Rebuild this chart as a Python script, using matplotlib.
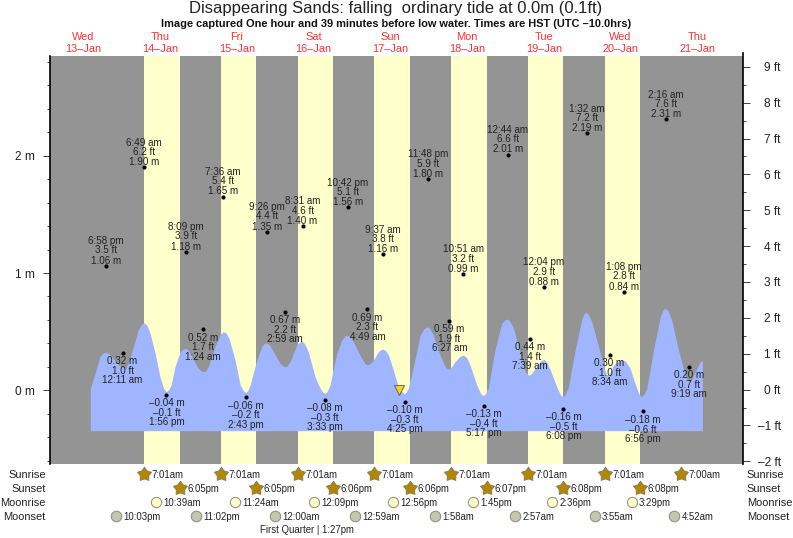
"""Tide chart for Disappearing Sands, one week of highs and lows."""

import matplotlib

matplotlib.use("Agg")
import matplotlib.pyplot as plt
from matplotlib.path import Path
from matplotlib.transforms import blended_transform_factory

plt.rcParams["font.family"] = ["Liberation Sans", "DejaVu Sans"]

GREY = "#949494"
DAYLIGHT = "#ffffcc"
WATER = "#9fb5ff"
INK = "#222222"
RED = "#ff3030"

# curve as drawn: hours after 13-Jan 00:00, height in metres
CURVE_H = [14.1, 15.6, 17.1, 18.0, 18.9, 19.8, 20.8, 22.9, 24.2, 25.2, 26.2,
           27.6, 29.1, 30.1, 31.0, 31.9, 32.8, 34.4, 35.9, 37.0, 37.8, 38.6,
           39.4, 40.6, 42.2, 43.2, 44.1, 45.0, 45.8, 47.9, 48.8, 49.5, 50.2,
           51.0, 53.1, 54.8, 55.7, 56.6, 57.5, 59.4, 61.0, 62.0, 62.7, 63.4,
           64.1, 66.2, 67.7, 68.5, 69.3, 70.2, 71.4, 73.5, 74.4, 75.0, 75.7,
           76.6, 78.7, 79.6, 80.4, 81.2, 82.3, 84.4, 86.0, 86.8, 87.5, 88.2,
           89.1, 91.2, 92.8, 93.7, 94.5, 95.4, 96.4, 99.0, 100.1, 100.8, 101.6,
           102.7, 104.2, 105.0, 105.6, 106.3, 107.4, 108.9, 110.4, 111.2, 112.3, 113.0,
           113.6, 115.2, 117.3, 118.5, 119.6, 120.5, 121.4, 123.5, 125.1, 125.8, 126.3, 127.0,
           128.2, 129.7, 130.8, 131.9, 132.9, 135.0, 136.3, 137.1, 137.8,
           138.6, 140.7, 142.8, 143.8, 144.6, 145.5, 146.5, 148.6, 150.1, 150.9, 151.5, 152.2,
           153.3, 155.0, 156.1, 157.0, 157.9, 160.0, 161.2, 161.9, 162.6,
           163.7, 165.8, 167.9, 168.6, 169.2, 169.9, 171.0, 173.1, 174.6, 175.5, 176.1, 176.8,
           177.8, 179.3, 180.4, 181.4, 183.0, 184.5, 185.8, 186.6, 187.4,
           188.2, 190.3, 192.4, 193.3, 194.0, 194.8, 196.0, 198.1, 200.2, 201.1, 201.8, 202.5,
           203.3, 204.9, 205.6]
CURVE_M = [0.017, 0.145, 0.286, 0.316, 0.324, 0.314, 0.286, 0.216, 0.195, 0.188, 0.245,
           0.372, 0.514, 0.562, 0.576, 0.550, 0.486, 0.315, 0.116, 0.020, -0.012, 0.005,
           0.045, 0.201, 0.329, 0.352, 0.358, 0.335, 0.286, 0.188, 0.165, 0.159, 0.168,
           0.201, 0.372, 0.478, 0.500, 0.488, 0.443, 0.258, 0.045, -0.005, -0.020, -0.002,
           0.045, 0.258, 0.372, 0.398, 0.406, 0.385, 0.329, 0.230, 0.208, 0.201, 0.210,
           0.244, 0.386, 0.412, 0.420, 0.395, 0.329, 0.116, 0.017, -0.014, -0.026, -0.010,
           0.045, 0.315, 0.429, 0.460, 0.471, 0.455, 0.414, 0.273, 0.226, 0.216, 0.228,
           0.258, 0.329, 0.347, 0.352, 0.343, 0.301, 0.173, 0.037, 0.003, -0.032, -0.012,
           0.017, 0.201, 0.471, 0.525, 0.542, 0.520, 0.471, 0.301, 0.201, 0.186, 0.182, 0.195,
           0.244, 0.288, 0.301, 0.278, 0.216, 0.045, -0.030, -0.046, -0.025,
           0.017, 0.344, 0.571, 0.600, 0.608, 0.585, 0.529, 0.315, 0.159, 0.135, 0.130, 0.145,
           0.188, 0.250, 0.264, 0.235, 0.182, 0.031, -0.038, -0.055, -0.035,
           0.031, 0.344, 0.614, 0.652, 0.665, 0.650, 0.585, 0.372, 0.216, 0.140, 0.122, 0.155,
           0.216, 0.250, 0.258, 0.252, 0.188, 0.060, -0.035, -0.055, -0.030,
           0.017, 0.344, 0.627, 0.685, 0.699, 0.680, 0.599, 0.344, 0.130, 0.083, 0.073, 0.105,
           0.159, 0.244, 0.250]
CURVE_FLOOR = -0.344

# labels sitting above their dot
UP_DAY = [13, 14, 14, 15, 15, 16, 16, 17, 17, 18, 19, 19, 20, 20, 21]
UP_TIME = ["6:58 pm", "6:49 am", "8:09 pm", "7:36 am", "9:26 pm", "8:31 am", "10:42 pm", "9:37 am",
           "11:48 pm", "10:51 am", "12:44 am", "12:04 pm", "1:32 am", "1:08 pm", "2:16 am"]
UP_FT = [3.5, 6.2, 3.9, 5.4, 4.4, 4.6, 5.1, 3.8, 5.9, 3.2, 6.6, 2.9, 7.2, 2.8, 7.6]
UP_M = [1.06, 1.90, 1.18, 1.65, 1.35, 1.40, 1.56, 1.16, 1.80, 0.99, 2.01, 0.88, 2.19, 0.84, 2.31]

# labels sitting below their dot
DOWN_DAY = [14, 14, 15, 15, 16, 16, 17, 17, 18, 18, 19, 19, 20, 20, 21]
DOWN_TIME = ["12:11 am", "1:56 pm", "1:24 am", "2:43 pm", "2:59 am", "3:33 pm", "4:49 am", "4:25 pm",
             "6:27 am", "5:17 pm", "7:39 am", "6:08 pm", "8:34 am", "6:56 pm", "9:19 am"]
DOWN_FT = [1.0, -0.1, 1.7, -0.2, 2.2, -0.3, 2.3, -0.3, 1.9, -0.4, 1.4, -0.5, 1.0, -0.6, 0.7]
DOWN_M = [0.32, -0.04, 0.52, -0.06, 0.67, -0.08, 0.69, -0.10, 0.59, -0.13, 0.44, -0.16, 0.30, -0.18, 0.20]

SUNRISE_DAY = [14, 15, 16, 17, 18, 19, 20, 21]
SUNRISE = ["7:01am", "7:01am", "7:01am", "7:01am", "7:01am", "7:01am", "7:01am", "7:00am"]
SUNSET_DAY = [14, 15, 16, 17, 18, 19, 20]
SUNSET = ["6:05pm", "6:05pm", "6:06pm", "6:06pm", "6:07pm", "6:08pm", "6:08pm"]
MOONRISE_DAY = [14, 15, 16, 17, 18, 19, 20]
MOONRISE = ["10:39am", "11:24am", "12:09pm", "12:56pm", "1:45pm", "2:36pm", "3:29pm"]
MOONSET_DAY = [13, 14, 16, 17, 18, 19, 20, 21]
MOONSET = ["10:03pm", "11:02pm", "12:00am", "12:59am", "1:58am", "2:57am", "3:55am", "4:52am"]

WEEKDAYS = ["Wed", "Thu", "Fri", "Sat", "Sun", "Mon", "Tue", "Wed", "Thu"]
DATES = ["13–Jan", "14–Jan", "15–Jan", "16–Jan", "17–Jan", "18–Jan", "19–Jan", "20–Jan", "21–Jan"]

NOW_H = 110.77  # 1 h 39 before the 4:25 pm low
NOW_M = 0.0

W, H = 793, 538


def hours(day, clock):
    """Hours after 13-Jan 00:00 for a day of month and a '6:58 pm' style time."""
    clock = clock.replace(" ", "")
    hh, mm = clock[:-2].split(":")
    hh = int(hh) % 12 + (12 if clock.endswith("pm") else 0)
    return (day - 13) * 24 + hh + int(mm) / 60


def fy(px):
    return 1 - px / H


def dash(s):
    return s.replace("-", "–")


fig = plt.figure(figsize=(W / 100, H / 100), dpi=100, facecolor="white")
ax = fig.add_axes([50 / W, fy(464), 693 / W, 408 / H])
ax.set_facecolor(GREY)
ax.set_xlim(1.5, 218.3)
ax.set_ylim(-0.628, 2.85)
row_transform = blended_transform_factory(ax.transData, fig.transFigure)

# -- daylight bands and water
rises = [hours(d, t) for d, t in zip(SUNRISE_DAY, SUNRISE)]
sets = [hours(d, t) for d, t in zip(SUNSET_DAY, SUNSET)]
for start, end in zip(rises, sets):
    ax.axvspan(start, end, color=DAYLIGHT, linewidth=0, zorder=1)
ax.fill_between(CURVE_H, CURVE_M, CURVE_FLOOR, color=WATER, linewidth=0, zorder=2)
ax.plot([NOW_H], [NOW_M], marker="v", ms=6.5, color="#ffd21a", mec="#555555", mew=0.6, zorder=3)

# -- highs and lows
label_kw = dict(textcoords="offset points", ha="center", va="center", fontsize=7.1, color=INK, zorder=5)
for days, times, fts, ms, offsets in (
    (UP_DAY, UP_TIME, UP_FT, UP_M, (3.8, 11.2, 17.8)),
    (DOWN_DAY, DOWN_TIME, DOWN_FT, DOWN_M, (-6, -13, -19.6)),
):
    for day, clock, ft, m in zip(days, times, fts, ms):
        x = hours(day, clock)
        ax.plot([x], [m], "o", ms=3, color="black", mew=0, zorder=4)
        for text, dy in zip((dash(f"{m:.2f} m"), dash(f"{ft:.1f} ft"), clock), offsets):
            ax.annotate(text, (x, m), xytext=(0, dy), **label_kw)

# -- axes
ax.set_xticks([])
for side in ("top", "bottom", "right"):
    ax.spines[side].set_visible(False)
ax.spines["left"].set_linewidth(1.2)
ax.set_yticks([0, 1, 2], ["0 m", "1 m", "2 m"])
ax.set_yticks([-0.6, -0.4, -0.2, 0.2, 0.4, 0.6, 0.8, 1.2, 1.4, 1.6, 1.8, 2.2, 2.4, 2.6, 2.8], minor=True)
ax.tick_params(axis="y", which="major", length=5, width=0.6, pad=6, labelsize=8.6, colors=INK)
ax.tick_params(axis="y", which="minor", length=2.2, width=0.6, color=INK)

ax_ft = ax.twinx()
ax_ft.set_ylim(-2.074, 9.30)
for side in ("top", "bottom", "left"):
    ax_ft.spines[side].set_visible(False)
ax_ft.spines["right"].set_linewidth(1.2)
ax_ft.spines["right"].set_bounds(-2.074, 9.39)
ft_ticks = list(range(-2, 10))
ax_ft.set_yticks(ft_ticks, [dash(f"{v} ft") for v in ft_ticks])
ax_ft.set_yticks([v + 0.5 for v in range(-2, 9)], minor=True)
ax_ft.tick_params(axis="y", which="major", length=5, width=0.6, pad=22.3, labelsize=8.6, colors=INK)
ax_ft.tick_params(axis="y", which="minor", length=2.5, width=0.6, color=INK)
plt.setp(ax_ft.get_yticklabels(), ha="right")

# -- titles and day names
fig.text(396 / W, fy(8.5), "Disappearing Sands: falling  ordinary tide at 0.0m (0.1ft)",
         ha="center", va="center", fontsize=12, color=INK)
fig.text(396.5 / W, fy(24), "Image captured One hour and 39 minutes before low water. Times are HST (UTC –10.0hrs)",
         ha="center", va="center", fontsize=7.92, fontweight="bold", color="#111111")
for i, (name, date) in enumerate(zip(WEEKDAYS, DATES)):
    x = i * 24 + 12
    ax.text(x, fy(37), name, transform=row_transform, ha="center", va="center",
            fontsize=7.9, color=RED, clip_on=False)
    ax.text(x, fy(49.3), date, transform=row_transform, ha="center", va="center",
            fontsize=7.9, color=RED, clip_on=False)

# -- sun and moon rows
fat_star = Path.unit_regular_star(5, innerCircle=0.6)
rows = [
    ("Sunrise", SUNRISE_DAY, SUNRISE, 474, dict(marker=fat_star, ms=10.5, mfc="#b38600", mec="#8b7d55")),
    ("Sunset", SUNSET_DAY, SUNSET, 488, dict(marker=fat_star, ms=10.5, mfc="#b38600", mec="#8b7d55")),
    ("Moonrise", MOONRISE_DAY, MOONRISE, 502, dict(marker="o", ms=7.4, mfc="#ffffcc", mec="#8a8a7a")),
    ("Moonset", MOONSET_DAY, MOONSET, 516, dict(marker="o", ms=7.6, mfc="#c6c6b0", mec="#8a8a7a")),
]
for name, days, times, row_y, style in rows:
    fig.text(45.7 / W, fy(row_y + 0.5), name, ha="right", va="center", fontsize=7.9, color=INK)
    fig.text(746.7 / W, fy(row_y + 0.5), name, ha="left", va="center", fontsize=7.9, color=INK)
    for day, clock in zip(days, times):
        x = hours(day, clock)
        ax.plot([x], [fy(row_y)], transform=row_transform, linestyle="none", mew=0.7, clip_on=False, **style)
        ax.annotate(clock, (x, fy(row_y + 1)), xycoords=row_transform,
                    xytext=(5.3, 0), textcoords="offset points", ha="left", va="center",
                    fontsize=6.9, color=INK, annotation_clip=False)

fig.text(307 / W, fy(530), "First Quarter | 1:27pm", ha="center", va="center", fontsize=6.9, color=INK)

fig.savefig("out.png", dpi=100, facecolor="white")
plt.close(fig)
